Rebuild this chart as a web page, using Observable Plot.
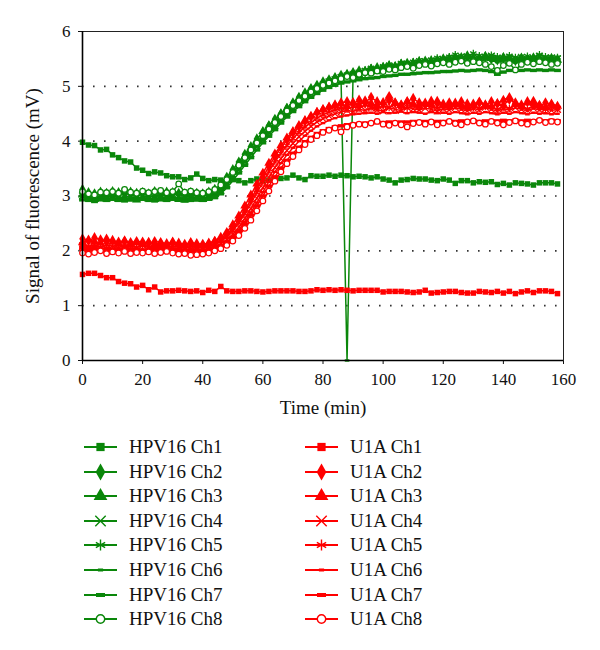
<!DOCTYPE html>
<html><head><meta charset="utf-8">
<script src="https://cdn.jsdelivr.net/npm/d3@7"></script>
<script src="https://cdn.jsdelivr.net/npm/@observablehq/plot@0.6"></script>
<style>
body{margin:0;background:#fff;}
#wrap{position:relative;width:600px;height:650px;font-family:"Liberation Serif","Times New Roman","DejaVu Serif",serif;background:#fff;}
#chart{position:absolute;left:0;top:0;}
#chart svg, #chart svg text{font-family:"Liberation Serif","Times New Roman","DejaVu Serif",serif;}
#chart g[aria-label="x-axis label"] text, #chart g[aria-label="y-axis label"] text{font-size:19px;}
.item{position:absolute;height:20px;}
.item span{position:absolute;white-space:nowrap;font-size:19px;line-height:20px;color:#111;}
</style></head><body><div id="wrap"><div id="chart"></div><div id="legend"></div></div>
<script>
const time = [0,2,4,6,8,10,12,14,16,18,20,22,24,26,28,30,32,34,36,38,
  40,42,44,46,48,50,52,54,56,58,60,62,64,66,68,70,72,74,76,78,
  80,82,84,86,88,90,92,94,96,98,100,102,104,106,108,110,112,114,116,118,
  120,122,124,126,128,130,132,134,136,138,140,142,144,146,148,150,152,154,156,158];

const hpv16Ch1 = [3.98,3.93,3.92,3.84,3.85,3.75,3.70,3.64,3.62,3.51,3.47,3.41,3.44,3.42,3.37,3.35,3.35,3.30,3.33,3.40,
  3.32,3.28,3.30,3.29,3.30,3.31,3.28,3.24,3.28,3.31,3.28,3.29,3.30,3.32,3.33,3.38,3.33,3.30,3.37,3.36,
  3.36,3.38,3.36,3.38,3.37,3.35,3.36,3.35,3.33,3.35,3.31,3.29,3.24,3.29,3.30,3.32,3.31,3.31,3.29,3.28,
  3.31,3.29,3.23,3.28,3.28,3.24,3.26,3.25,3.26,3.21,3.23,3.20,3.24,3.23,3.22,3.20,3.24,3.24,3.24,3.22];
const hpv16Ch2 = [3.12,3.06,3.04,3.07,3.05,3.08,3.06,3.04,3.07,3.05,3.06,3.04,3.08,3.05,3.07,3.06,3.05,3.04,3.06,3.05,
  3.04,3.07,3.12,3.20,3.34,3.48,3.62,3.76,3.90,4.04,4.16,4.28,4.40,4.50,4.60,4.70,4.80,4.88,4.96,5.02,
  5.08,5.12,5.16,5.20,5.22,5.25,5.28,5.26,5.31,5.34,5.33,5.37,5.36,5.40,5.42,5.40,5.44,5.46,5.43,5.47,
  5.50,5.48,5.52,5.50,5.53,5.49,5.51,5.54,5.50,5.48,5.52,5.50,5.47,5.51,5.49,5.52,5.50,5.48,5.51,5.49];
const hpv16Ch3 = [3.02,2.96,2.94,2.97,2.95,2.96,2.94,2.97,2.95,2.93,2.96,2.95,2.94,2.97,2.95,2.96,2.94,2.93,2.96,2.95,
  2.94,2.97,3.03,3.14,3.28,3.44,3.58,3.72,3.88,4.02,4.18,4.28,4.38,4.50,4.60,4.68,4.78,4.86,4.94,5.00,
  5.06,5.10,5.14,5.18,5.21,5.24,5.20,5.28,5.32,5.30,5.35,5.38,5.36,5.41,5.39,5.43,5.45,5.42,5.47,5.45,
  5.48,5.51,5.49,5.53,5.56,5.52,5.50,5.55,5.51,5.49,5.53,5.50,5.48,5.52,5.50,5.47,5.51,5.49,5.46,5.48];
const hpv16Ch4 = [3.00,2.97,2.95,2.99,2.98,3.00,2.97,2.99,2.98,2.96,2.99,2.98,3.00,2.97,2.99,2.98,2.97,2.99,2.98,2.97,
  2.96,2.98,3.02,3.10,3.22,3.36,3.50,3.64,3.78,3.92,4.05,4.17,4.29,4.41,4.51,4.61,4.71,4.80,4.88,4.95,
  5.02,5.08,5.12,5.16,5.18,5.22,5.24,5.27,5.30,5.28,5.33,5.36,5.34,5.39,5.41,5.38,5.43,5.45,5.42,5.46,
  5.49,5.47,5.51,5.54,5.50,5.52,5.49,5.53,5.55,5.51,5.48,5.52,5.50,5.53,5.49,5.51,5.54,5.50,5.52,5.50];
const hpv16Ch5 = [3.04,2.99,2.97,3.01,3.00,3.03,3.00,3.10,3.02,3.00,3.04,3.01,2.99,3.03,3.00,3.02,3.05,3.00,3.02,2.99,
  3.00,3.02,3.06,3.12,3.24,3.38,3.52,3.66,3.80,3.94,4.07,4.20,4.32,4.43,4.54,4.64,4.74,4.83,4.91,4.98,
  5.05,5.10,5.14,5.18,5.22,5.20,5.25,5.30,5.34,5.32,5.37,5.40,5.38,5.43,5.40,5.45,5.48,5.44,5.49,5.52,
  5.50,5.54,5.58,5.52,5.55,5.60,5.56,5.53,5.57,5.54,5.51,5.56,5.53,5.50,5.55,5.52,5.58,5.54,5.51,5.53];
const hpv16Ch6 = [2.98,2.95,2.94,2.97,2.96,2.95,2.97,2.95,2.96,2.94,2.97,2.96,2.95,2.97,2.96,2.95,2.94,2.96,2.95,2.96,
  2.95,2.97,3.00,3.08,3.20,3.34,3.48,3.62,3.76,3.90,4.02,4.14,4.26,4.38,4.48,4.58,4.68,4.77,4.85,4.92,
  4.98,5.04,5.09,5.13,0.00,5.20,5.22,5.25,5.28,5.26,5.30,5.33,5.31,5.36,5.38,5.35,5.40,5.42,5.39,5.43,
  5.45,5.43,5.47,5.49,5.46,5.48,5.45,5.49,5.47,5.44,5.48,5.46,5.43,5.47,5.45,5.48,5.46,5.44,5.47,5.45];
const hpv16Ch7 = [2.93,2.92,2.90,2.93,2.92,2.94,2.92,2.91,2.93,2.92,2.94,2.92,2.91,2.93,2.92,2.94,2.93,2.91,2.92,2.93,
  2.92,2.94,2.97,3.04,3.15,3.28,3.42,3.56,3.70,3.84,3.97,4.09,4.21,4.33,4.44,4.54,4.63,4.72,4.80,4.87,
  4.93,4.98,5.02,5.06,5.08,5.10,5.12,5.14,5.15,5.16,5.18,5.19,5.20,5.22,5.22,5.23,5.24,5.25,5.25,5.26,
  5.27,5.27,5.28,5.29,5.28,5.29,5.30,5.29,5.27,5.22,5.26,5.29,5.30,5.29,5.30,5.29,5.30,5.29,5.30,5.29];
const hpv16Ch8 = [3.08,3.04,3.02,3.07,3.06,3.08,3.05,3.12,3.07,3.05,3.09,3.06,3.08,3.10,3.06,3.08,3.22,3.07,3.09,3.06,
  3.05,3.08,3.12,3.20,3.30,3.43,3.56,3.70,3.84,3.97,4.10,4.22,4.34,4.45,4.55,4.65,4.74,4.82,4.90,4.96,
  5.02,5.06,5.10,5.14,5.18,5.16,5.22,5.25,5.24,5.28,5.27,5.31,5.30,5.34,5.36,5.33,5.38,5.40,5.37,5.41,
  5.43,5.40,5.44,5.46,5.42,5.45,5.43,5.40,5.36,5.29,5.38,5.42,5.30,5.40,5.44,5.41,5.45,5.43,5.40,5.42];

const u1aCh1 = [1.57,1.59,1.59,1.55,1.51,1.51,1.44,1.41,1.40,1.34,1.37,1.29,1.34,1.25,1.27,1.27,1.28,1.27,1.26,1.27,
  1.24,1.28,1.26,1.35,1.27,1.26,1.26,1.27,1.27,1.26,1.25,1.26,1.27,1.27,1.27,1.27,1.26,1.26,1.27,1.29,
  1.28,1.29,1.28,1.29,1.28,1.27,1.28,1.28,1.28,1.28,1.25,1.26,1.26,1.26,1.25,1.24,1.25,1.28,1.23,1.24,
  1.25,1.26,1.26,1.24,1.23,1.23,1.26,1.25,1.24,1.26,1.23,1.26,1.22,1.25,1.27,1.24,1.27,1.27,1.26,1.22];
const u1aCh2 = [2.22,2.18,2.24,2.20,2.17,2.19,2.16,2.18,2.15,2.17,2.16,2.14,2.17,2.15,2.13,2.16,2.14,2.12,2.15,2.13,
  2.12,2.14,2.17,2.22,2.30,2.42,2.57,2.74,2.94,3.14,3.34,3.54,3.72,3.88,4.02,4.15,4.26,4.36,4.44,4.52,
  4.57,4.62,4.66,4.70,4.72,4.68,4.75,4.70,4.80,4.72,4.68,4.74,4.70,4.66,4.72,4.78,4.70,4.67,4.73,4.69,
  4.65,4.70,4.67,4.72,4.68,4.64,4.70,4.66,4.72,4.68,4.65,4.76,4.70,4.66,4.72,4.68,4.64,4.70,4.66,4.62];
const u1aCh3 = [2.15,2.20,2.17,2.14,2.22,2.16,2.13,2.18,2.12,2.15,2.13,2.16,2.12,2.14,2.11,2.15,2.12,2.10,2.14,2.11,
  2.10,2.13,2.18,2.25,2.34,2.48,2.64,2.82,3.02,3.22,3.42,3.60,3.77,3.92,4.06,4.18,4.29,4.38,4.46,4.53,
  4.58,4.62,4.65,4.68,4.64,4.71,4.66,4.74,4.69,4.65,4.71,4.82,4.70,4.66,4.72,4.68,4.64,4.70,4.67,4.73,
  4.68,4.64,4.70,4.66,4.62,4.68,4.72,4.66,4.63,4.69,4.75,4.80,4.68,4.64,4.70,4.73,4.66,4.62,4.68,4.64];
const u1aCh4 = [2.08,2.04,2.06,2.03,2.05,2.02,2.04,2.06,2.03,2.05,2.02,2.04,2.03,2.05,2.02,2.04,2.03,2.01,2.03,2.02,
  2.02,2.04,2.08,2.13,2.20,2.30,2.43,2.59,2.77,2.96,3.15,3.34,3.52,3.68,3.83,3.96,4.08,4.18,4.27,4.35,
  4.41,4.46,4.50,4.53,4.56,4.54,4.58,4.56,4.60,4.57,4.55,4.61,4.58,4.56,4.62,4.59,4.57,4.60,4.58,4.55,
  4.59,4.57,4.61,4.58,4.55,4.60,4.57,4.62,4.58,4.55,4.59,4.57,4.61,4.58,4.56,4.60,4.57,4.59,4.56,4.58];
const u1aCh5 = [2.12,2.08,2.10,2.07,2.11,2.08,2.06,2.10,2.08,2.06,2.09,2.07,2.05,2.08,2.06,2.09,2.07,2.05,2.08,2.06,
  2.05,2.08,2.12,2.18,2.26,2.37,2.51,2.68,2.87,3.06,3.25,3.44,3.62,3.78,3.92,4.05,4.16,4.26,4.34,4.42,
  4.48,4.53,4.57,4.60,4.58,4.63,4.60,4.66,4.62,4.59,4.64,4.61,4.67,4.63,4.60,4.65,4.62,4.68,4.63,4.60,
  4.64,4.61,4.66,4.62,4.59,4.64,4.60,4.65,4.62,4.58,4.63,4.60,4.66,4.62,4.59,4.64,4.61,4.58,4.62,4.60];
const u1aCh6 = [2.03,2.00,2.02,1.99,2.01,2.00,1.98,2.01,1.99,2.00,1.98,2.00,1.99,2.01,1.98,2.00,1.99,1.97,1.99,1.98,
  1.98,2.00,2.04,2.09,2.16,2.26,2.38,2.53,2.70,2.88,3.07,3.26,3.44,3.60,3.75,3.88,4.00,4.10,4.19,4.27,
  4.33,4.38,4.42,4.45,4.47,4.49,4.50,4.51,4.52,4.50,4.53,4.51,4.52,4.54,4.51,4.53,4.52,4.50,4.53,4.51,
  4.52,4.50,4.53,4.51,4.49,4.52,4.50,4.53,4.51,4.49,4.52,4.50,4.53,4.51,4.49,4.52,4.50,4.51,4.49,4.50];
const u1aCh7 = [2.06,2.03,2.05,2.02,2.04,2.03,2.01,2.04,2.02,2.03,2.01,2.03,2.02,2.04,2.01,2.03,2.02,2.00,2.02,2.01,
  2.01,2.03,2.06,2.10,2.16,2.24,2.35,2.49,2.65,2.82,3.00,3.18,3.35,3.51,3.65,3.78,3.89,3.99,4.07,4.14,
  4.19,4.23,4.26,4.28,4.30,4.31,4.32,4.33,4.33,4.34,4.34,4.35,4.34,4.35,4.35,4.36,4.35,4.36,4.35,4.36,
  4.36,4.35,4.36,4.37,4.36,4.37,4.36,4.37,4.36,4.37,4.38,4.37,4.38,4.37,4.38,4.37,4.38,4.37,4.38,4.37];
const u1aCh8 = [1.96,1.94,1.97,2.00,1.95,1.98,1.96,1.99,1.95,1.97,1.96,1.98,1.95,1.97,1.99,1.96,1.94,1.95,1.92,1.93,
  1.94,1.96,2.00,2.04,2.10,2.18,2.28,2.41,2.56,2.73,2.91,3.09,3.27,3.44,3.59,3.72,3.84,3.94,4.03,4.10,
  4.16,4.20,4.24,4.17,4.26,4.29,4.31,4.30,4.33,4.36,4.31,4.29,4.33,4.30,4.26,4.32,4.34,4.31,4.35,4.30,
  4.33,4.36,4.32,4.30,4.35,4.37,4.33,4.31,4.36,4.33,4.30,4.34,4.37,4.33,4.31,4.35,4.38,4.34,4.36,4.35];

const hpv16Names = ["HPV16 Ch1","HPV16 Ch2","HPV16 Ch3","HPV16 Ch4","HPV16 Ch5","HPV16 Ch6","HPV16 Ch7","HPV16 Ch8"];
const u1aNames = ["U1A Ch1","U1A Ch2","U1A Ch3","U1A Ch4","U1A Ch5","U1A Ch6","U1A Ch7","U1A Ch8"];
const xTicks = [0,20,40,60,80,100,120,140,160];
const yTicks = [0,1,2,3,4,5,6];
const gridLines = [1,2,3,4,5];

const GREEN = "#0a870a", RED = "#ff0000";
const dashSmall = {draw(c){c.moveTo(-2.3,-1.2);c.lineTo(2.3,-1.2);c.lineTo(2.3,1.2);c.lineTo(-2.3,1.2);c.closePath();}};
const dashLarge = {draw(c){c.moveTo(-3.4,-1.7);c.lineTo(3.4,-1.7);c.lineTo(3.4,1.7);c.lineTo(-3.4,1.7);c.closePath();}};
const dashSmallL = {draw(c){c.moveTo(-2.6,-1.5);c.lineTo(2.6,-1.5);c.lineTo(2.6,1.5);c.lineTo(-2.6,1.5);c.closePath();}};
const dashLargeL = {draw(c){c.moveTo(-4.5,-2);c.lineTo(4.5,-2);c.lineTo(4.5,2);c.lineTo(-4.5,2);c.closePath();}};
const markerStyles = [
  {symbol:"square", r:3.1, fill:true, leg:d3.symbolSquare},
  {symbol:"diamond", r:3.4, fill:true, leg:d3.symbolDiamond},
  {symbol:"triangle", r:3.4, fill:true, leg:d3.symbolTriangle},
  {symbol:"times", r:3.2, fill:false, leg:d3.symbolTimes},
  {symbol:"asterisk", r:3.4, fill:false, leg:d3.symbolAsterisk},
  {symbol:dashSmall, r:3, fill:true, leg:dashSmallL},
  {symbol:dashLarge, r:3, fill:true, leg:dashLargeL},
  {symbol:"circle", r:2.8, fill:"white", leg:d3.symbolCircle}
];
const hpv16Values = [hpv16Ch1,hpv16Ch2,hpv16Ch3,hpv16Ch4,hpv16Ch5,hpv16Ch6,hpv16Ch7,hpv16Ch8];
const u1aValues = [u1aCh1,u1aCh2,u1aCh3,u1aCh4,u1aCh5,u1aCh6,u1aCh7,u1aCh8];

const series = [];
hpv16Values.forEach((vals,i)=>series.push({name:hpv16Names[i], color:GREEN, ch:i, col:0, data:time.map((t,j)=>({t, v:vals[j]}))}));
u1aValues.forEach((vals,i)=>series.push({name:u1aNames[i], color:RED, ch:i, col:1, data:time.map((t,j)=>({t, v:vals[j]}))}));

function dotOpts(s){
  const m = markerStyles[s.ch];
  const o = {x:"t", y:"v", symbol:()=>m.symbol, r:m.r, strokeWidth:1.25};
  if (m.fill === true) { o.fill = s.color; o.stroke = "none"; }
  else if (m.fill === "white") { o.fill = "white"; o.stroke = s.color; }
  else { o.fill = "none"; o.stroke = s.color; }
  return o;
}

const marks = [
  Plot.ruleY(gridLines, {stroke:"#333", strokeWidth:1.6, strokeDasharray:"1.6,9.4", strokeLinecap:"butt"})
];
series.forEach(s=>{
  marks.push(Plot.line(s.data, {x:"t", y:"v", stroke:s.color, strokeWidth:1.5}));
  marks.push(Plot.dot(s.data, dotOpts(s)));
});
marks.push(Plot.frame({stroke:"#222", strokeWidth:1}));
marks.push(Plot.ruleX([0], {stroke:"#000", strokeWidth:1.6}));
marks.push(Plot.ruleY([0], {stroke:"#000", strokeWidth:1.6}));

const chart = Plot.plot({
  width:600, height:425,
  marginLeft:82, marginRight:37, marginTop:31, marginBottom:65,
  style:{fontSize:"17px", color:"#111", background:"white", overflow:"visible"},
  x:{domain:[0,160], ticks:xTicks, tickFormat:d=>String(d), label:"Time (min)", labelAnchor:"center", labelArrow:"none", labelOffset:53, tickSize:4, tickPadding:8},
  y:{domain:[0,6], ticks:yTicks, tickFormat:d=>String(d), label:"Signal of fluorescence (mV)", labelAnchor:"center", labelArrow:"none", labelOffset:57, tickSize:4, tickPadding:8},
  marks
});
document.getElementById("chart").appendChild(chart);

// legend
const legend = d3.select("#legend");
const rowY0 = 447, rowStep = 24.6;
series.forEach(s=>{
  const m = markerStyles[s.ch];
  const lineX = s.col === 0 ? 84 : 305;
  const textX = s.col === 0 ? 129 : 350;
  const cy = rowY0 + s.ch*rowStep;
  const item = legend.append("div").attr("class","item").style("left","0px").style("top",(cy-10)+"px");
  const svg = item.append("svg").attr("width",36).attr("height",20)
    .style("position","absolute").style("left",lineX+"px").style("top","0px");
  svg.append("line").attr("x1",0).attr("x2",33).attr("y1",10).attr("y2",10).attr("stroke",s.color).attr("stroke-width",1.8);
  const r = m.r*1.5;
  const p = svg.append("path").attr("transform","translate(16.5,10)").attr("d", d3.symbol(m.leg, Math.PI*r*r)());
  if (m.fill === true) p.attr("fill", s.color);
  else if (m.fill === "white") p.attr("fill","white").attr("stroke",s.color).attr("stroke-width",1.4);
  else p.attr("fill","none").attr("stroke",s.color).attr("stroke-width",1.4);
  item.append("span").style("left",textX+"px").style("top","0px").text(s.name);
});
</script></body></html>
